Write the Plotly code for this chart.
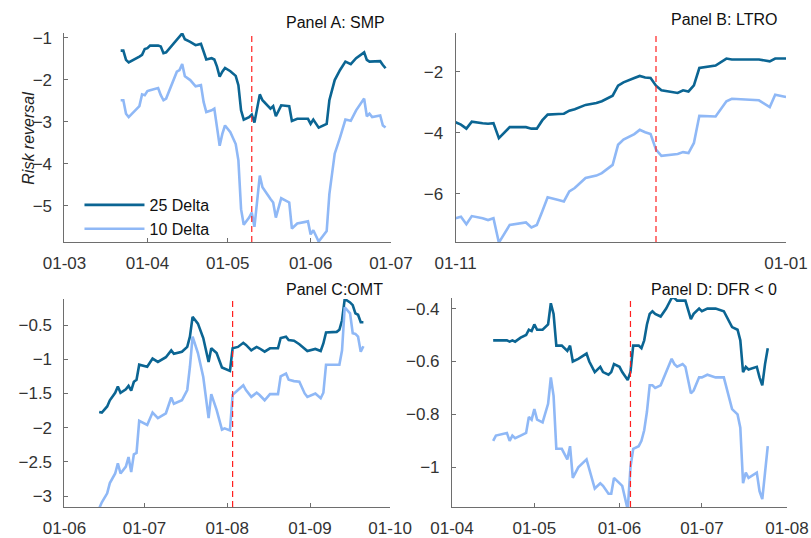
import plotly.graph_objects as go
from plotly.subplots import make_subplots

# Panel A: SMP (2010)
dates_a = ["2010-03-22", "2010-03-23", "2010-03-24", "2010-03-25", "2010-03-29", "2010-03-30", "2010-03-31",
           "2010-04-01", "2010-04-02", "2010-04-05", "2010-04-06", "2010-04-07", "2010-04-08", "2010-04-12",
           "2010-04-13", "2010-04-14", "2010-04-15", "2010-04-17", "2010-04-19", "2010-04-21", "2010-04-22",
           "2010-04-23", "2010-04-25", "2010-04-26", "2010-04-27", "2010-04-28", "2010-04-29", "2010-04-30",
           "2010-05-02", "2010-05-04", "2010-05-05", "2010-05-06", "2010-05-07", "2010-05-09", "2010-05-10",
           "2010-05-11", "2010-05-13", "2010-05-14", "2010-05-17", "2010-05-18", "2010-05-19", "2010-05-21",
           "2010-05-24", "2010-05-25", "2010-05-27", "2010-05-31", "2010-06-01", "2010-06-02", "2010-06-04",
           "2010-06-07", "2010-06-08", "2010-06-10", "2010-06-12", "2010-06-14", "2010-06-16", "2010-06-18",
           "2010-06-21", "2010-06-22", "2010-06-23", "2010-06-24", "2010-06-27", "2010-06-28", "2010-06-29"]
rr25_a = [-1.31, -1.31, -1.53, -1.59, -1.45, -1.41, -1.27, -1.25, -1.19, -1.19,
          -1.21, -1.37, -1.35, -1.06, -0.98, -0.90, -1.04, -1.10, -1.18, -1.15,
          -1.33, -1.52, -1.49, -1.52, -1.69, -1.93, -1.81, -1.72, -1.80, -1.91,
          -2.13, -2.73, -2.95, -2.89, -2.83, -3.02, -2.35, -2.49, -2.69, -2.63,
          -2.87, -2.61, -2.63, -2.98, -2.93, -2.93, -3.05, -2.95, -3.14, -3.05,
          -2.49, -2.01, -1.77, -1.57, -1.63, -1.49, -1.35, -1.53, -1.57, -1.57,
          -1.56, -1.65, -1.73]
rr10_a = [-2.49, -2.49, -2.81, -2.89, -2.63, -2.35, -2.37, -2.27, -2.25, -2.20,
          -2.37, -2.49, -2.45, -1.81, -1.77, -1.63, -1.92, -2.01, -2.16, -2.13,
          -2.53, -2.77, -2.73, -2.69, -3.13, -3.57, -3.29, -3.09, -3.25, -3.53,
          -3.92, -5.08, -5.45, -5.28, -5.16, -5.50, -4.28, -4.56, -4.84, -4.92,
          -5.28, -4.82, -4.92, -5.54, -5.42, -5.37, -5.68, -5.58, -5.85, -5.60,
          -4.72, -3.76, -3.37, -2.95, -2.98, -2.73, -2.45, -2.87, -2.81, -2.89,
          -2.85, -3.09, -3.14]

# Panel B: LTRO (2011)
dates_b = ["2011-11-01", "2011-11-02", "2011-11-03", "2011-11-04", "2011-11-06", "2011-11-07", "2011-11-08",
           "2011-11-09", "2011-11-11", "2011-11-14", "2011-11-15", "2011-11-16", "2011-11-17", "2011-11-18",
           "2011-11-20", "2011-11-21", "2011-11-22", "2011-11-23", "2011-11-25", "2011-11-27", "2011-11-28",
           "2011-11-30", "2011-12-01", "2011-12-02", "2011-12-04", "2011-12-05", "2011-12-06", "2011-12-07",
           "2011-12-08", "2011-12-09", "2011-12-12", "2011-12-13", "2011-12-14", "2011-12-15", "2011-12-16",
           "2011-12-19", "2011-12-21", "2011-12-22", "2011-12-27", "2011-12-29", "2011-12-30", "2012-01-01"]
rr25_b = [-3.65, -3.73, -3.86, -3.63, -3.68, -3.70, -3.68, -4.17, -3.81, -3.81,
          -3.86, -3.86, -3.59, -3.40, -3.38, -3.37, -3.27, -3.22, -3.08, -3.02,
          -2.96, -2.78, -2.45, -2.34, -2.20, -2.13, -2.18, -2.20, -2.45, -2.60,
          -2.69, -2.60, -2.64, -2.44, -1.87, -1.79, -1.56, -1.59, -1.59, -1.65,
          -1.56, -1.56]
rr10_b = [-6.80, -6.75, -7.00, -6.73, -6.80, -6.86, -6.80, -7.60, -7.02, -6.94,
          -7.10, -7.02, -6.58, -6.11, -6.20, -6.25, -5.92, -5.81, -5.48, -5.40,
          -5.32, -5.05, -4.39, -4.22, -4.04, -3.90, -3.98, -4.04, -4.55, -4.75,
          -4.69, -4.63, -4.66, -4.33, -3.44, -3.46, -2.96, -2.88, -2.93, -3.15,
          -2.75, -2.82]

# Panel C: OMT (2012)
dates_c = ["2012-06-14", "2012-06-15", "2012-06-17", "2012-06-18", "2012-06-20", "2012-06-21", "2012-06-22",
           "2012-06-24", "2012-06-25", "2012-06-26", "2012-06-27", "2012-06-28", "2012-06-29", "2012-07-02",
           "2012-07-04", "2012-07-06", "2012-07-09", "2012-07-11", "2012-07-12", "2012-07-15", "2012-07-17",
           "2012-07-18", "2012-07-19", "2012-07-21", "2012-07-23", "2012-07-25", "2012-07-26", "2012-07-28",
           "2012-07-30", "2012-07-31", "2012-08-02", "2012-08-03", "2012-08-05", "2012-08-07", "2012-08-08",
           "2012-08-10", "2012-08-12", "2012-08-13", "2012-08-15", "2012-08-17", "2012-08-20", "2012-08-21",
           "2012-08-23", "2012-08-24", "2012-08-26", "2012-08-28", "2012-08-30", "2012-08-31", "2012-09-03",
           "2012-09-05", "2012-09-06", "2012-09-07", "2012-09-11", "2012-09-12", "2012-09-13", "2012-09-14",
           "2012-09-16", "2012-09-17", "2012-09-18", "2012-09-19", "2012-09-20", "2012-09-21"]
rr25_c = [-1.77, -1.78, -1.69, -1.60, -1.49, -1.40, -1.49, -1.44, -1.39, -1.46,
          -1.33, -1.30, -1.08, -1.11, -0.99, -1.04, -0.97, -0.87, -0.92, -0.89,
          -0.82, -0.67, -0.38, -0.48, -0.69, -1.04, -0.84, -0.91, -1.12, -1.14,
          -1.17, -0.84, -0.82, -0.76, -0.79, -0.87, -0.82, -0.84, -0.89, -0.84,
          -0.84, -0.69, -0.67, -0.72, -0.73, -0.78, -0.85, -0.88, -0.85, -0.88,
          -0.77, -0.61, -0.60, -0.57, -0.43, -0.12, -0.17, -0.21, -0.33, -0.35,
          -0.46, -0.46]
rr10_c = [-3.18, -3.09, -2.96, -2.81, -2.67, -2.52, -2.67, -2.57, -2.43, -2.65,
          -2.39, -2.37, -1.90, -1.96, -1.78, -1.86, -1.79, -1.56, -1.65, -1.60,
          -1.45, -1.11, -0.67, -0.91, -1.26, -1.86, -1.51, -1.74, -2.03, -2.01,
          -2.04, -1.52, -1.45, -1.38, -1.45, -1.55, -1.49, -1.52, -1.60, -1.51,
          -1.51, -1.25, -1.21, -1.30, -1.32, -1.33, -1.50, -1.55, -1.50, -1.57,
          -1.49, -1.08, -1.08, -1.08, -0.87, -0.24, -0.33, -0.62, -0.63, -0.67,
          -0.89, -0.81]

# Panel D: DFR < 0 (2014)
dates_d = ["2014-04-16", "2014-04-17", "2014-04-21", "2014-04-22", "2014-04-23", "2014-04-24", "2014-04-26",
           "2014-04-28", "2014-04-29", "2014-04-30", "2014-05-01", "2014-05-02", "2014-05-04", "2014-05-06",
           "2014-05-07", "2014-05-08", "2014-05-09", "2014-05-11", "2014-05-13", "2014-05-14", "2014-05-15",
           "2014-05-17", "2014-05-20", "2014-05-21", "2014-05-23", "2014-05-25", "2014-05-26", "2014-05-28",
           "2014-05-29", "2014-05-30", "2014-06-01", "2014-06-02", "2014-06-04", "2014-06-05", "2014-06-06",
           "2014-06-08", "2014-06-09", "2014-06-10", "2014-06-11", "2014-06-12", "2014-06-13", "2014-06-14",
           "2014-06-16", "2014-06-18", "2014-06-20", "2014-06-21", "2014-06-22", "2014-06-24", "2014-06-25",
           "2014-06-27", "2014-06-28", "2014-06-30", "2014-07-01", "2014-07-03", "2014-07-06", "2014-07-09",
           "2014-07-12", "2014-07-14", "2014-07-15", "2014-07-16", "2014-07-17", "2014-07-18", "2014-07-21",
           "2014-07-22", "2014-07-23", "2014-07-24", "2014-07-25"]
rr25_d = [-0.52, -0.52, -0.52, -0.525, -0.52, -0.525, -0.51, -0.50, -0.48, -0.485,
          -0.46, -0.48, -0.48, -0.46, -0.38, -0.42, -0.54, -0.54, -0.56, -0.54,
          -0.60, -0.59, -0.57, -0.60, -0.64, -0.62, -0.64, -0.65, -0.64, -0.61,
          -0.62, -0.64, -0.67, -0.64, -0.54, -0.54, -0.55, -0.52, -0.46, -0.42,
          -0.41, -0.42, -0.43, -0.40, -0.36, -0.36, -0.37, -0.37, -0.37, -0.44,
          -0.42, -0.40, -0.41, -0.40, -0.40, -0.41, -0.47, -0.48, -0.52, -0.64,
          -0.62, -0.63, -0.62, -0.66, -0.69, -0.61, -0.55]
rr10_d = [-0.90, -0.88, -0.87, -0.90, -0.88, -0.89, -0.88, -0.87, -0.81, -0.82,
          -0.78, -0.82, -0.83, -0.76, -0.66, -0.73, -0.93, -0.93, -0.97, -0.92,
          -1.04, -1.00, -0.97, -1.01, -1.08, -1.06, -1.07, -1.10, -1.10, -1.04,
          -1.06, -1.07, -1.16, -1.00, -0.93, -0.92, -0.90, -0.86, -0.79, -0.69,
          -0.69, -0.70, -0.69, -0.64, -0.59, -0.61, -0.62, -0.61, -0.62, -0.72,
          -0.71, -0.66, -0.66, -0.65, -0.66, -0.66, -0.78, -0.80, -0.85, -1.06,
          -1.02, -1.04, -1.02, -1.09, -1.12, -1.02, -0.92]

panel_titles = ["Panel A: SMP", "Panel B: LTRO", "Panel C:OMT", "Panel D: DFR < 0"]
event_dates = ["2010-05-10", "2011-12-08", "2012-08-03", "2014-06-05"]
x_ranges = [["2010-03-01", "2010-07-01"], ["2011-11-01", "2012-01-01"],
            ["2012-06-01", "2012-10-01"], ["2014-04-01", "2014-08-01"]]
y_ranges = [[-5.86, -0.89], [-7.58, -0.72], [-3.16, -0.12], [-1.15, -0.36]]
x_dticks = ["M1", "M2", "M1", "M1"]
y_dticks = [1, 2, 0.5, 0.2]

DARK = "#0b6593"
LIGHT = "#8fb8f6"
FONT = "Liberation Sans, Arial, sans-serif"

panels = [(dates_a, rr25_a, rr10_a), (dates_b, rr25_b, rr10_b),
          (dates_c, rr25_c, rr10_c), (dates_d, rr25_d, rr10_d)]
cells = [(1, 1), (1, 2), (2, 1), (2, 2)]

fig = make_subplots(rows=2, cols=2)

for i, ((d, v25, v10), (r, c)) in enumerate(zip(panels, cells)):
    fig.add_trace(go.Scatter(x=d, y=v25, mode="lines", name="25 Delta",
                             line=dict(color=DARK, width=2.6), showlegend=(i == 0)), row=r, col=c)
    fig.add_trace(go.Scatter(x=d, y=v10, mode="lines", name="10 Delta",
                             line=dict(color=LIGHT, width=2.6), showlegend=(i == 0)), row=r, col=c)
    fig.add_vline(x=event_dates[i], line=dict(color="#ff2020", width=1.2, dash="6px,4px"), row=r, col=c)

x_domains = [[0.0795, 0.482], [0.5617, 0.9692], [0.0795, 0.481], [0.5573, 0.9704]]
y_domains = [[0.5502, 0.9387], [0.5502, 0.9387], [0.0576, 0.4442], [0.0576, 0.4461]]

axis_style = dict(showgrid=False, zeroline=False, showline=True, linecolor="#6e6e6e", linewidth=1,
                  ticks="inside", ticklen=4, tickcolor="#6e6e6e", automargin=False,
                  tickfont=dict(family=FONT, size=17, color="#333333"))

for i in range(4):
    sfx = "" if i == 0 else str(i + 1)
    fig.layout["xaxis" + sfx].update(domain=x_domains[i], range=x_ranges[i], type="date",
                                     tick0=x_ranges[i][0], dtick=x_dticks[i], tickformat="%d-%m",
                                     ticklabelstandoff=6, **axis_style)
    fig.layout["yaxis" + sfx].update(domain=y_domains[i], range=y_ranges[i], dtick=y_dticks[i],
                                     ticklabelstandoff=8, **axis_style)

title_pos = [(0.477, 0.959), (0.9605, 0.963), (0.4747, 0.461), (0.9605, 0.461)]
for t, (tx, ty) in zip(panel_titles, title_pos):
    fig.add_annotation(text=t, x=tx, y=ty, xref="paper", yref="paper", xanchor="right", yanchor="middle",
                       showarrow=False, font=dict(family=FONT, size=16, color="#111111"))

fig.add_annotation(text="<i>Risk reversal</i>", x=0.022, y=0.833, xref="paper", yref="paper",
                   textangle=-90, showarrow=False, font=dict(family=FONT, size=16, color="#222222"))

fig.update_layout(
    width=811, height=538,
    margin=dict(l=0, r=0, t=0, b=0),
    plot_bgcolor="white", paper_bgcolor="white",
    showlegend=True,
    legend=dict(x=0.098, y=0.6506, xanchor="left", yanchor="top", bgcolor="rgba(0,0,0,0)",
                font=dict(family=FONT, size=16, color="#111111"), tracegroupgap=0, itemwidth=60),
)

# drop the default page margin so the 811x538 figure fills the window exactly
fig.write_html("out.html", config={"displayModeBar": False},
               post_script="document.body.style.margin='0';document.body.style.overflow='hidden';")
